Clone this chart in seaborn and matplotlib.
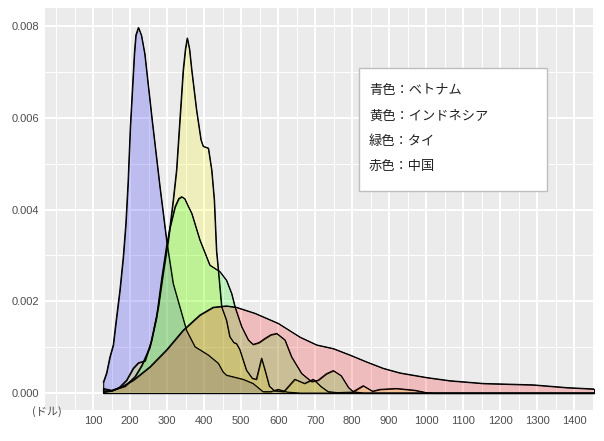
import matplotlib
matplotlib.use("Agg")
import matplotlib.pyplot as plt
from matplotlib.patches import Rectangle
from matplotlib.colors import to_rgba
import seaborn as sns
import pandas as pd
import numpy as np

# ---- data ----
vn_x = [127, 136, 145, 154, 161, 172, 181, 188, 194, 200, 211, 215, 222, 230, 239, 259, 280, 298, 316, 334,
        352, 375, 411, 438, 451, 460, 505, 532, 559, 580, 600, 625, 660, 1454]
vn_y = [0.00023, 0.00044, 0.00079, 0.00105, 0.00153, 0.00225, 0.00297, 0.0037, 0.0046, 0.0058, 0.0074, 0.0078,
        0.00797, 0.0078, 0.0074, 0.00595, 0.0045, 0.00334, 0.00239, 0.00188,
        0.00137, 0.00101, 0.00083, 0.00065, 0.00046, 0.00039, 0.0003, 0.00021, 0.00003, 0.00003, 0.00008, 0.00002, 0.0, 0.0]

id_x = [127, 150, 170, 190, 208, 222, 240, 258, 276, 289, 303, 316, 325, 334, 343, 349, 354, 360, 366, 379,
        391, 397, 411, 420, 427, 433, 438, 447, 460, 469, 480, 487, 496, 514, 530, 541, 555, 566, 576, 590,
        615, 645, 671, 695, 716, 735, 760, 800, 830, 855, 875, 920, 970, 1000, 1020, 1454]
id_y = [0.00005, 0.00005, 0.00012, 0.00028, 0.00054, 0.00066, 0.0007, 0.00116, 0.00188, 0.00261,
        0.00334, 0.0042, 0.00486, 0.00595, 0.00704, 0.0075, 0.00774, 0.0075, 0.00704, 0.00617,
        0.00552, 0.00538, 0.00534, 0.00486, 0.00421, 0.0031, 0.00268, 0.00188, 0.00159, 0.00123,
        0.0011, 0.00108, 0.00095, 0.0005, 0.00032, 0.0003, 0.00076, 0.00045, 0.00015, 0.00005,
        0.00003, 0.0003, 0.00021, 0.0003, 0.00014, 0.00003, 0.00001, 0.00002, 0.00016, 0.00004,
        0.00008, 0.0001, 0.00006, 0.00001, 0.0, 0.0]

th_x = [127, 150, 186, 213, 231, 253, 271, 285, 298, 307, 321, 331, 339, 347, 355, 366, 388, 415, 442, 460,
        474, 483, 501, 519, 532, 548, 564, 580, 596, 618, 636, 663, 690, 708, 730, 749, 770, 790, 803, 830, 1454]
th_y = [0.0001, 0.00006, 0.00015, 0.00036, 0.0006, 0.001, 0.00165, 0.0025, 0.0032, 0.0036,
        0.00406, 0.00424, 0.00428, 0.00424, 0.0041, 0.00392, 0.00334, 0.00279, 0.00265, 0.00246,
        0.00217, 0.00188, 0.00145, 0.00116, 0.00106, 0.0011, 0.00119, 0.00127, 0.0013, 0.00116,
        0.00079, 0.00043, 0.00025, 0.00028, 0.00042, 0.00049, 0.00038, 0.00012, 0.00003, 0.0, 0.0]

cn_x = [127, 150, 180, 208, 253, 298, 343, 388, 424, 460, 487, 537, 600, 659, 704, 749, 794, 839, 884, 929,
        1001, 1064, 1155, 1289, 1380, 1454]
cn_y = [0.00002, 0.00005, 0.00015, 0.00028, 0.00057, 0.00094, 0.00137, 0.0017, 0.00187, 0.0019,
        0.00187, 0.00174, 0.00152, 0.00122, 0.00105, 0.00097, 0.00083, 0.00068, 0.00054, 0.00044,
        0.00034, 0.00027, 0.00021, 0.00018, 0.00012, 0.00009]

countries = ["ベトナム", "インドネシア", "タイ", "中国"]
fill_colors = ["#0000FF", "#FFFF00", "#00FF00", "#FF0000"]
legend_lines = ["青色：ベトナム", "黄色：インドネシア", "緑色：タイ", "赤色：中国"]
x_ticks = list(range(100, 1500, 100))
y_ticks = [0.0, 0.002, 0.004, 0.006, 0.008]
unit_label = "(ドル)"

series = {
    "ベトナム": (vn_x, vn_y),
    "インドネシア": (id_x, id_y),
    "タイ": (th_x, th_y),
    "中国": (cn_x, cn_y),
}
df = pd.concat(
    [pd.DataFrame({"wage": xs, "density": ys, "country": name}) for name, (xs, ys) in series.items()],
    ignore_index=True,
)

# ---- style ----
sns.set_theme(style="darkgrid")
plt.rcParams["font.family"] = ["Liberation Sans", "Noto Sans CJK JP", "DejaVu Sans"]

fig = plt.figure(figsize=(6.04, 4.41), dpi=100)
fig.patch.set_facecolor("white")
ax = fig.add_axes([45 / 604, 31 / 441, 549 / 604, 401.7 / 441])
ax.set_facecolor("#EBEBEB")
ax.set_axisbelow(True)

for name, col in zip(countries, fill_colors):
    sub = df[df["country"] == name]
    ax.fill_between(sub["wage"], sub["density"], 0,
                    facecolor=to_rgba(col, 0.2), edgecolor="black", linewidth=0.75, zorder=2)

sns.lineplot(data=df, x="wage", y="density", units="country", estimator=None,
             color="black", linewidth=0.75, ax=ax, zorder=3, sort=False, legend=False)

ax.set_xticks(x_ticks)
ax.set_xticklabels([str(t) for t in x_ticks])
ax.set_xticks(list(range(0, 1451, 50)), minor=True)
ax.set_yticks(y_ticks)
ax.set_yticklabels([f"{t:.3f}" for t in y_ticks])
ax.set_yticks([0.001, 0.003, 0.005, 0.007], minor=True)

ax.set_xlim(-30.3, 1453.9)
ax.set_ylim(-0.00037, 0.008386)

ax.grid(which="major", color="white", linewidth=1.4)
ax.grid(which="minor", color="white", linewidth=0.7)
ax.tick_params(which="major", length=2.5, width=0.8, color="#333333",
               labelsize=8, labelcolor="#4D4D4D", pad=2)
ax.tick_params(which="minor", length=0)
for s in ax.spines.values():
    s.set_visible(False)
ax.set_xlabel("")
ax.set_ylabel("")

# legend-like text box
ax.add_patch(Rectangle((0.572, 0.545), 0.342, 0.306, transform=ax.transAxes,
                       facecolor="white", edgecolor="#BEBEBE", linewidth=1.0, zorder=5))
for i, line in enumerate(legend_lines):
    fig.text(369 / 604, 1 - (91 + 25 * i) / 441, line, fontsize=9.5, color="#222222",
             family=["Noto Sans CJK JP", "DejaVu Sans"], va="center", ha="left", zorder=6)

fig.text(47 / 604, 1 - 412 / 441, unit_label, fontsize=8, color="#4D4D4D",
         family=["Noto Sans CJK JP", "DejaVu Sans"], va="center", ha="center")

fig.savefig("out.png", dpi=100)
